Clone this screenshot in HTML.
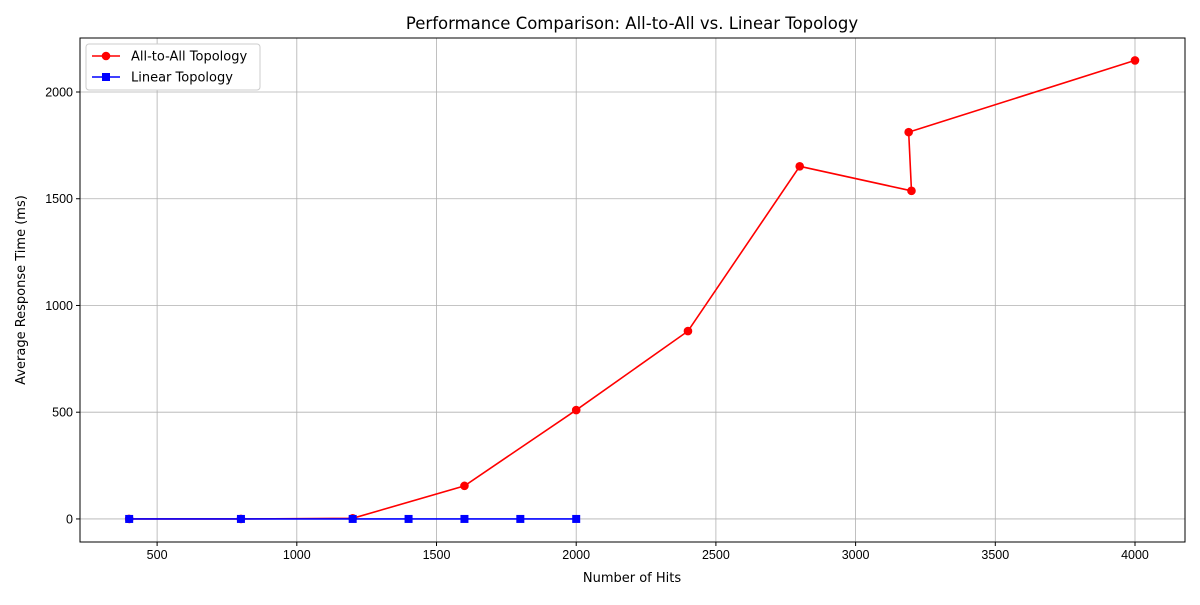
<!DOCTYPE html>
<html><head><meta charset="utf-8"><style>
body{margin:0;background:#fff;font-family:"Liberation Sans","DejaVu Sans",sans-serif}
</style></head><body>
<svg id="c" width="1200" height="600" xmlns="http://www.w3.org/2000/svg" font-family="Liberation Sans, DejaVu Sans, sans-serif"></svg>
<script>
const xTicks=[500,1000,1500,2000,2500,3000,3500,4000];
const yTicks=[0,500,1000,1500,2000];
const allX=[400,800,1200,1600,2000,2400,2800,3200,3190,4000];
const allY=[0,0,3,155,510,880,1652,1537,1812,2148];
const linX=[400,800,1200,1400,1600,1800,2000];
const linY=[0,0,0,0,0,0,0];
const L=80,R=1185,T=38,B=542;
const xMin=224,xMax=4179,yMin=-108,yMax=2253;
const DV='DejaVu Sans, sans-serif';
const sx=v=>L+(v-xMin)/(xMax-xMin)*(R-L);
const sy=v=>B-(v-yMin)/(yMax-yMin)*(B-T);
const svg=document.getElementById('c');const NS='http://www.w3.org/2000/svg';
function el(t,a,p){const e=document.createElementNS(NS,t);for(const k in a)e.setAttribute(k,a[k]);(p||svg).appendChild(e);return e;}
let g=el('g',{});


xTicks.forEach(v=>{el('line',{x1:sx(v),x2:sx(v),y1:T,y2:B,stroke:'#b0b0b0','stroke-width':0.8},g);
 el('line',{x1:sx(v),x2:sx(v),y1:B,y2:B+4,stroke:'#000'},g);
 const t=el('text',{x:sx(v),y:B+17,'text-anchor':'middle','font-size':12.5},g);t.textContent=v;
 
 });
yTicks.forEach(v=>{el('line',{x1:L,x2:R,y1:sy(v),y2:sy(v),stroke:'#b0b0b0','stroke-width':0.8},g);
 el('line',{x1:L-4,x2:L,y1:sy(v),y2:sy(v),stroke:'#000'},g);
 const t=el('text',{x:L-7,y:sy(v)+4.5,'text-anchor':'end','font-size':12.5},g);t.textContent=v;
 
 });
const fr=el('rect',{x:L,y:T,width:R-L,height:B-T,fill:'none',stroke:'#000','stroke-width':1});


function series(xs,ys,col,sq,name){
 const s=el('g',{});
 
 
 el('polyline',{points:xs.map((x,i)=>sx(x)+','+sy(ys[i])).join(' '),fill:'none',stroke:col,'stroke-width':1.6},s);
 xs.forEach((x,i)=>{let m;
  if(sq)m=el('rect',{x:sx(x)-4,y:sy(ys[i])-4,width:8,height:8,fill:col},s);
  else m=el('circle',{cx:sx(x),cy:sy(ys[i]),r:4.3,fill:col},s);
  
  });
}
series(allX,allY,'#ff0000',false,'all-to-all-series');
series(linX,linY,'#0000ff',true,'linear-series');
let t=el('text',{x:632,y:29,'text-anchor':'middle','font-size':16.5,'font-family':DV});t.textContent='Performance Comparison: All-to-All vs. Linear Topology';

t=el('text',{x:632,y:582,'text-anchor':'middle','font-size':13,'font-family':DV});t.textContent='Number of Hits';

t=el('text',{x:25,y:290,'text-anchor':'middle','font-size':13,'font-family':DV,transform:'rotate(-90 25 290)'});t.textContent='Average Response Time (ms)';

const lg=el('g',{});


el('rect',{x:86,y:44,width:174,height:46,rx:3,fill:'#fff',stroke:'#ccc'},lg);
[['All-to-All Topology','#ff0000',false],['Linear Topology','#0000ff',true]].forEach((d,i)=>{
 const y=56+i*21;
 el('line',{x1:92,x2:120,y1:y,y2:y,stroke:d[1],'stroke-width':1.6},lg);
 if(d[2])el('rect',{x:102,y:y-4,width:8,height:8,fill:d[1]},lg);else el('circle',{cx:106,cy:y,r:4.3,fill:d[1]},lg);
 const tt=el('text',{x:131,y:y+4.5,'font-size':13,'font-family':DV},lg);tt.textContent=d[0];
 
});
</script></body></html>
